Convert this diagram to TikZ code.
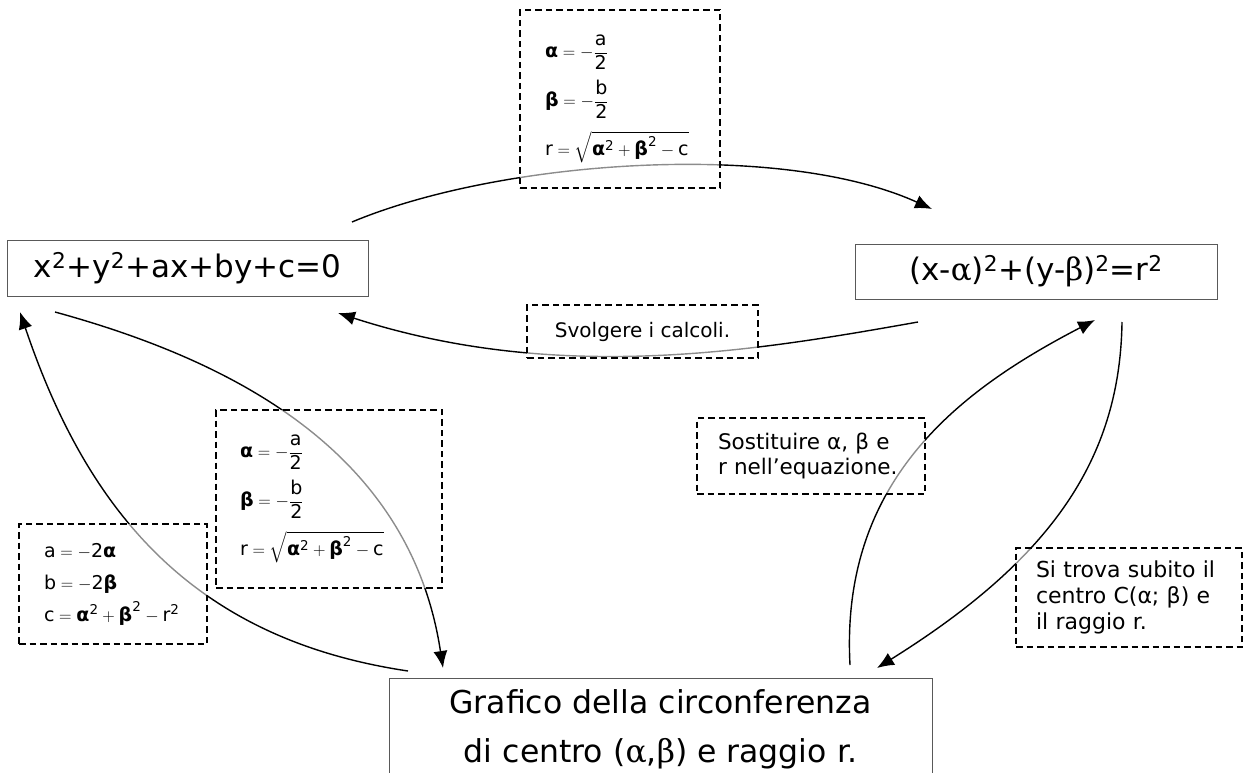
\documentclass[tikz,border=0pt]{standalone}
\usepackage{fontspec}
\usepackage{amsmath}
\setmainfont{DejaVu Sans}
\newfontfamily\symf{DejaVu Serif}
\usetikzlibrary{arrows.meta}
\newcommand{\ba}{\mbox{\bfseries α}}
\newcommand{\bb}{\mbox{\bfseries β}}
\newcommand{\tm}[1]{\mbox{#1}}
\newcommand{\sq}{^{\mbox{\fontsize{13.5}{14}\selectfont 2}}}
\begin{document}
\begin{tikzpicture}[x=1pt,y=-1pt,
  solidbox/.style={draw=black!65, line width=1pt, inner sep=0pt},
  dbox/.style={draw=black, dash pattern=on 6.5pt off 4pt, line width=1.4pt, fill=white, fill opacity=0.55, text opacity=1, inner sep=0pt},
  conn/.style={line width=1.4pt, -{Latex[length=17pt,width=14pt]}},
  mathtxt/.style={font={\fontsize{19}{49}\selectfont\lineskiplimit=-60pt}, align=left},
  smalltxt/.style={font={\fontsize{21.5}{25}\selectfont}, align=left}]
\useasboundingbox (0,0) rectangle (1244,773);
% main nodes
\node[solidbox, minimum width=361pt, minimum height=56pt, font={\fontsize{31}{36}\selectfont}] (gen) at (187.5,268) {x\textsuperscript{2}+y\textsuperscript{2}+ax+by+c=0};
\node[solidbox, minimum width=362pt, minimum height=55pt, font={\fontsize{31}{36}\selectfont}] (can) at (1036,271.5) {(x-{\symf α})\textsuperscript{2}+(y-{\symf β})\textsuperscript{2}=r\textsuperscript{2}};
\node[solidbox, anchor=north, minimum width=543pt, inner ysep=11pt, align=center, font={\fontsize{31.5}{49}\selectfont}] (graf) at (660.5,678) {Grafico della circonferenza\\di centro ({\symf α},{\symf β}) e raggio r.};
% endpoints
\coordinate (c1s) at (352,222); \coordinate (c1e) at (932,209);
\coordinate (c2s) at (918,322); \coordinate (c2e) at (338,313);
\coordinate (c3s) at (408,671); \coordinate (c3e) at (20,312);
\coordinate (c4s) at (55,312);  \coordinate (c4e) at (443,668);
\coordinate (c5s) at (850,665); \coordinate (c5e) at (1095,320);
\coordinate (c6s) at (1122,322); \coordinate (c6e) at (877,668);
% connectors
\draw[conn] (c1s) .. controls (500,160) and (780,140) .. (c1e);
\draw[conn] (c2s) .. controls (760,350) and (560,385) .. (c2e);
\draw[conn] (c3s) .. controls (200,640) and (90,520) .. (c3e);
\draw[conn] (c4s) .. controls (230,360) and (410,450) .. (c4e);
\draw[conn] (c5s) .. controls (840,480) and (960,390) .. (c5e);
\draw[conn] (c6s) .. controls (1120,460) and (1050,560) .. (c6e);
% dashed label boxes
\node[dbox, mathtxt, minimum width=200pt, minimum height=178pt, text width=150pt] (top) at (620,99)
  {$\ba=-\dfrac{\tm{a}}{\tm{2}}$\\ $\bb=-\dfrac{\tm{b}}{\tm{2}}$\\ $\tm{r}=\sqrt{\ba\sq+\bb\sq-\tm{c}}$};
\node[dbox, mathtxt, minimum width=226pt, minimum height=178pt, text width=178pt] (mid) at (329,499)
  {$\ba=-\dfrac{\tm{a}}{\tm{2}}$\\ $\bb=-\dfrac{\tm{b}}{\tm{2}}$\\ $\tm{r}=\sqrt{\ba\sq+\bb\sq-\tm{c}}$};
\node[dbox, minimum width=188pt, minimum height=120pt, text width=138pt, align=left, font={\fontsize{19}{32}\selectfont\lineskiplimit=-60pt}] (coef) at (113,584)
  {$\tm{a}=-\tm{2}\ba$\\ $\tm{b}=-\tm{2}\bb$\\ $\tm{c}=\ba\sq+\bb\sq-\tm{r}\sq$};
\node[dbox, font={\fontsize{20}{25}\selectfont}, minimum width=231pt, minimum height=53pt] (svol) at (642.5,331.5) {Svolgere i calcoli.};
\node[dbox, smalltxt, minimum width=228pt, minimum height=76pt, text width=186pt] (sost) at (811,456) {Sostituire α, β e\\r nell’equazione.};
\node[dbox, smalltxt, font={\fontsize{22}{26}\selectfont}, minimum width=226pt, minimum height=99pt, text width=186pt] (sitr) at (1129,597.5) {Si trova subito il\\centro C(α; β) e\\il raggio r.};
\end{tikzpicture}
\end{document}
